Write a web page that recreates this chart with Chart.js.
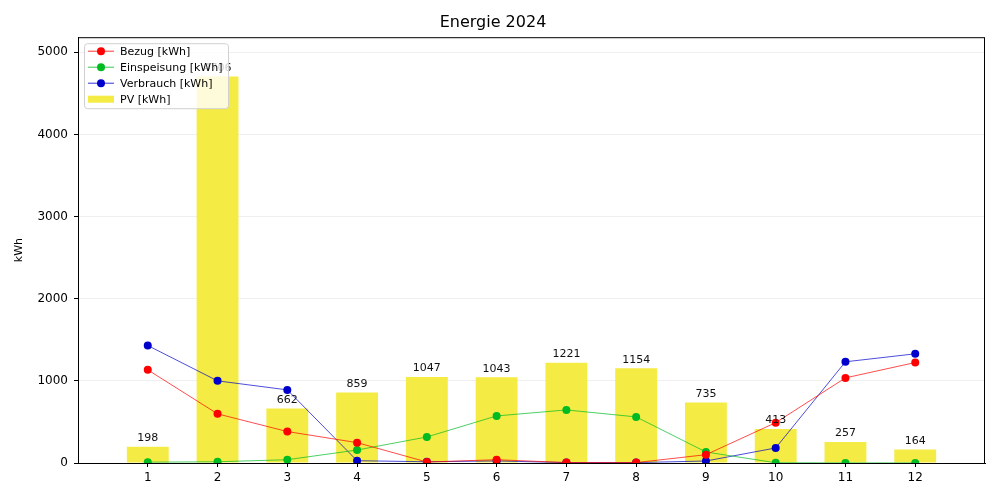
<!DOCTYPE html>
<html>
<head>
<meta charset="utf-8">
<script src="https://cdn.jsdelivr.net/npm/chart.js@4.4.1/dist/chart.umd.min.js"></script>
<style>
  html, body { margin: 0; padding: 0; background: #fff; }
  #wrap { width: 1000px; height: 500px; }
</style>
</head>
<body>
<div id="wrap"><canvas id="c" width="1000" height="500"></canvas></div>
<script>
const months = [1, 2, 3, 4, 5, 6, 7, 8, 9, 10, 11, 12];
const pv = [198, 4706, 662, 859, 1047, 1043, 1221, 1154, 735, 413, 257, 164];
const bezug = [1134, 598, 383, 248, 12, 40, 5, 5, 101, 491, 1036, 1223];
const einspeisung = [10, 15, 40, 158, 317, 573, 646, 561, 134, 3, 1, 1];
const verbrauch = [1430, 1000, 890, 28, 15, 25, 5, 5, 24, 183, 1232, 1329];
const yTicks = [0, 1000, 2000, 3000, 4000, 5000];

const FONT = "'DejaVu Sans', sans-serif";
const pts = arr => months.map((m, i) => ({ x: m, y: arr[i] }));

const lineDs = (label, data, color) => ({
  type: 'line', label, data: pts(data),
  borderColor: color, backgroundColor: color,
  borderWidth: 0.7, pointRadius: 4, pointHoverRadius: 4,
  pointBorderWidth: 0, tension: 0, order: 0
});

const boxPlugin = {
  id: 'box',
  afterDraw(chart) {
    const { ctx, chartArea: a } = chart;
    ctx.save();
    ctx.strokeStyle = '#000';
    ctx.lineWidth = 1;
    ctx.strokeRect(a.left + 0.5, a.top + 0.5, a.right - a.left - 1, a.bottom - a.top);
    ctx.restore();
  }
};

const barLabelPlugin = {
  id: 'barLabels',
  afterDatasetsDraw(chart) {
    const { ctx } = chart;
    const idx = chart.data.datasets.findIndex(d => d.type === 'bar');
    const meta = chart.getDatasetMeta(idx);
    ctx.save();
    ctx.font = '11px ' + FONT;
    ctx.fillStyle = '#111';
    ctx.textAlign = 'center';
    ctx.textBaseline = 'bottom';
    meta.data.forEach((el, i) => {
      ctx.fillText(String(pv[i]), el.x, el.y - 3);
    });
    ctx.restore();
  }
};

const legendPlugin = {
  id: 'customLegend',
  afterDraw(chart) {
    const { ctx, chartArea: a } = chart;
    const x0 = a.left + 6, y0 = a.top + 6, w = 144, h = 65;
    ctx.save();
    ctx.fillStyle = 'rgba(255,255,255,0.8)';
    ctx.strokeStyle = '#d0d0d0';
    ctx.lineWidth = 1;
    ctx.beginPath();
    if (ctx.roundRect) ctx.roundRect(x0 + 0.5, y0 + 0.5, w, h, 3); else ctx.rect(x0 + 0.5, y0 + 0.5, w, h);
    ctx.fill();
    ctx.stroke();
    ctx.font = '11px ' + FONT;
    ctx.textBaseline = 'middle';
    chart.data.datasets.forEach((ds, i) => {
      const yy = y0 + 8 + i * 16;
      if (ds.type === 'line') {
        ctx.strokeStyle = ds.borderColor;
        ctx.lineWidth = 0.8;
        ctx.beginPath(); ctx.moveTo(x0 + 4, yy); ctx.lineTo(x0 + 30, yy); ctx.stroke();
        ctx.fillStyle = ds.borderColor;
        ctx.beginPath(); ctx.arc(x0 + 17, yy, 4, 0, Math.PI * 2); ctx.fill();
      } else {
        ctx.fillStyle = ds.backgroundColor;
        ctx.fillRect(x0 + 4, yy - 3.5, 26, 7);
      }
      ctx.fillStyle = '#000';
      ctx.fillText(ds.label, x0 + 36, yy + 1);
    });
    ctx.restore();
  }
};

new Chart(document.getElementById('c'), {
  data: {
    datasets: [
      lineDs('Bezug [kWh]', bezug, '#ff0000'),
      lineDs('Einspeisung [kWh]', einspeisung, '#00bb22'),
      lineDs('Verbrauch [kWh]', verbrauch, '#0000cc'),
      {
        type: 'bar', label: 'PV [kWh]', data: pts(pv),
        backgroundColor: '#f4eb44', borderWidth: 0,
        barPercentage: 0.6, categoryPercentage: 1.0, order: 1
      }
    ]
  },
  options: {
    responsive: false,
    animation: false,
    devicePixelRatio: 1,
    layout: { padding: { left: 1, right: 15, top: 0, bottom: 0 } },
    plugins: {
      legend: { display: false },
      tooltip: { enabled: false },
      title: {
        display: true, text: 'Energie 2024', color: '#000',
        font: { family: FONT, size: 16, weight: 'normal' },
        padding: { top: 13, bottom: 5 }
      }
    },
    scales: {
      x: {
        type: 'linear', min: 0, max: 13, offset: false,
        afterBuildTicks(scale) { scale.ticks = months.map(v => ({ value: v })); },
        afterFit(scale) { scale.height = 37; },
        grid: { offset: false, drawOnChartArea: false, tickLength: 4, tickColor: '#000', tickWidth: 1 },
        border: { color: '#000', width: 1 },
        ticks: { color: '#000', font: { family: FONT, size: 12 }, padding: 4, autoSkip: false, maxRotation: 0,
                 callback: v => String(v) }
      },
      y: {
        min: 0, max: 5183,
        afterBuildTicks(scale) { scale.ticks = yTicks.map(v => ({ value: v })); },
        afterFit(scale) { scale.width = 77; },
        grid: { color: '#efefef', lineWidth: 1, tickLength: 4, tickColor: '#000' },
        border: { color: '#000', width: 1 },
        ticks: { color: '#000', font: { family: FONT, size: 12 }, padding: 6, callback: v => String(v) },
        title: {
          display: true, text: 'kWh', color: '#000',
          font: { family: FONT, size: 11 }, padding: { top: 12, bottom: 0 }
        }
      }
    }
  },
  plugins: [barLabelPlugin, boxPlugin, legendPlugin]
});
</script>
</body>
</html>
